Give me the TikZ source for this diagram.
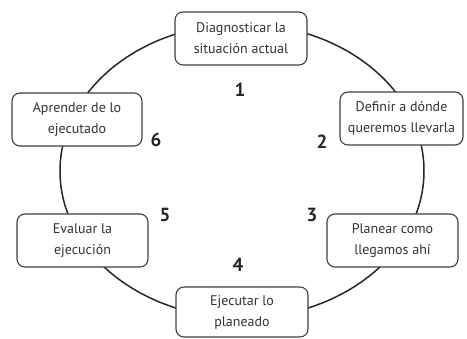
\documentclass[tikz,border=0pt]{standalone}
\usepackage{fontspec}
\setmainfont{PT Sans}
\begin{document}
\begin{tikzpicture}[x=1pt,y=-1pt,
  stage/.style={draw=black!75, line width=1.1pt, rounded corners=8pt, fill=white,
    minimum width=#1, minimum height=53pt, align=center, inner sep=0pt,
    font=\fontsize{14}{21}\selectfont, text=black!80},
  stage/.default=131pt,
  num/.style={font=\fontsize{19}{19}\bfseries\selectfont, text=black!85, inner sep=0pt}]
\useasboundingbox (0,0) rectangle (467,339);
\draw[line width=1.5pt, black!85] (242,171) ellipse [x radius=182pt, y radius=147pt];
\node[stage=132pt] (s1) at (241,38.5) {Diagnosticar la\\situación actual};
\node[stage=123pt] (s2) at (401.5,118.5) {Definir a dónde\\queremos llevarla};
\node[stage=131pt] (s3) at (392.5,240.5) {Planear como\\llegamos ahí};
\node[stage=132pt, minimum height=50pt] (s4) at (242,312) {Ejecutar lo\\planeado};
\node[stage=131pt] (s5) at (82.5,240.5) {Evaluar la\\ejecución};
\node[stage=130pt] (s6) at (77,119.5) {Aprender de lo\\ejecutado};
\node[num] (n1) at (240,90) {1};
\node[num] (n2) at (322,142) {2};
\node[num] (n3) at (312,215) {3};
\node[num] (n4) at (238,265) {4};
\node[num] (n5) at (165,215) {5};
\node[num] (n6) at (156,140) {6};
\end{tikzpicture}
\end{document}
